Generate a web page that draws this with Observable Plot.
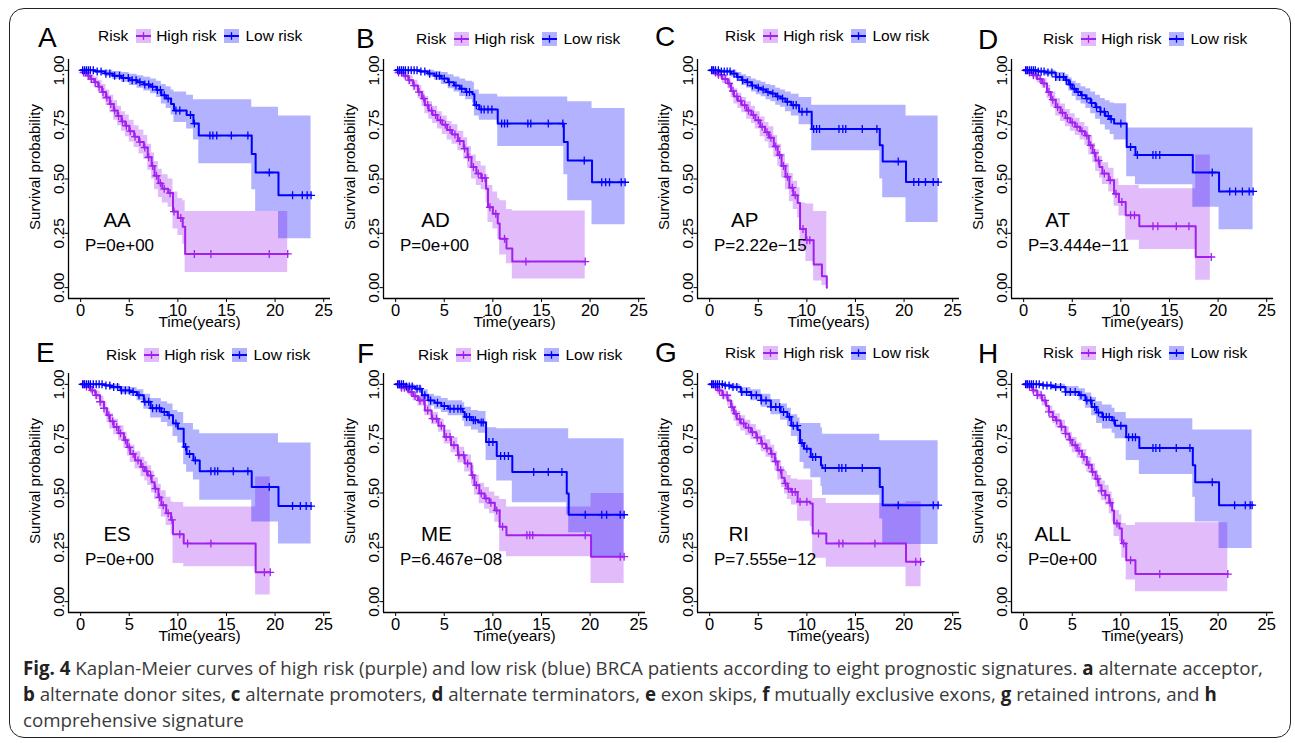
<!DOCTYPE html>
<html><head><meta charset="utf-8">
<script src="https://cdn.jsdelivr.net/npm/d3@7"></script>
<script src="https://cdn.jsdelivr.net/npm/@observablehq/plot@0.6"></script>
<style>
html,body{margin:0;padding:0;background:#fff;}
#root{position:relative;width:1295px;height:743px;overflow:hidden;font-family:"Liberation Sans",Arial,sans-serif;background:#fff;}
#frame{position:absolute;left:9px;top:8px;width:1282px;height:730px;border:1.6px solid #222;border-radius:15px;box-sizing:border-box;}
.panel{position:absolute;}
.letter{position:absolute;font-size:28px;line-height:1;color:#000;}
.legend{position:absolute;display:flex;align-items:center;height:16px;font-size:15.5px;line-height:16px;color:#000;white-space:nowrap;}
.legend svg{display:block;}
.caption{position:absolute;left:23px;white-space:nowrap;color:#3a3a3a;line-height:26px;font-family:"Open Sans","Noto Sans",sans-serif;font-size:18px;}
.caption b{font-weight:700;color:#222;}
</style></head>
<body><div id="root"><div id="frame"></div></div>
<script>
// ---------- categories / labels ----------
const panelLetters = ["A","B","C","D","E","F","G","H"];
const signatures = ["AA","AD","AP","AT","ES","ME","RI","ALL"];
const pValues = ["P=0e+00","P=0e+00","P=2.22e\u221215","P=3.444e\u221211","P=0e+00","P=6.467e\u221208","P=7.555e\u221212","P=0e+00"];
const legendTitle = "Risk";
const groupLabels = ["High risk","Low risk"];
const xTicks = [0,5,10,15,20,25];
const yTicks = [0,0.25,0.5,0.75,1];
const xLabel = "Time(years)";
const yLabel = "Survival probability";

// ---------- AA ----------
const AA_low_t  = [0,1.5,2.5,3.3,4.2,5.0,5.8,6.5,7.2,7.8,8.3,8.8,9.3,9.6,10.9,11.6,12.15,17.6,18.0,20.35,23.7];
const AA_low_s  = [1,0.995,0.985,0.975,0.965,0.955,0.945,0.935,0.925,0.91,0.885,0.87,0.845,0.815,0.795,0.755,0.70,0.615,0.53,0.425,0.425];
const AA_low_hi = [1,1,1,0.995,0.99,0.982,0.975,0.968,0.96,0.95,0.935,0.925,0.91,0.9,0.885,0.865,0.865,0.83,0.83,0.79,0.79];
const AA_low_lo = [1,0.985,0.972,0.958,0.945,0.93,0.918,0.905,0.892,0.875,0.845,0.825,0.795,0.76,0.73,0.68,0.57,0.45,0.35,0.225,0.225];
const AA_low_c  = [0.2,0.4,0.6,0.8,1.0,1.3,1.7,2.1,2.6,3.0,3.5,4.0,4.4,4.9,5.3,5.7,6.1,6.6,7.0,7.4,7.9,8.2,8.6,9.0,9.8,10.2,11.3,11.7,13.3,13.6,14.0,15.5,17.2,19.4,21.8,22.8,23.3,23.7];
const AA_high_t  = [0,0.3,0.7,1.0,1.4,1.8,2.2,2.6,3.0,3.4,3.8,4.2,4.6,5.0,5.5,6.0,6.5,6.9,7.3,7.6,8.0,8.4,9.0,9.5,10.0,10.5,10.75,21.3];
const AA_high_s  = [1,0.99,0.975,0.96,0.945,0.925,0.9,0.875,0.845,0.815,0.79,0.765,0.745,0.72,0.695,0.67,0.645,0.6,0.56,0.515,0.48,0.455,0.435,0.35,0.32,0.28,0.155,0.155];
const AA_high_hi = [1,1,0.99,0.98,0.97,0.955,0.935,0.91,0.885,0.86,0.835,0.81,0.795,0.77,0.745,0.725,0.7,0.66,0.62,0.58,0.545,0.52,0.5,0.44,0.41,0.4,0.35,0.35];
const AA_high_lo = [1,0.98,0.96,0.94,0.92,0.895,0.865,0.84,0.805,0.77,0.745,0.72,0.695,0.67,0.645,0.615,0.59,0.54,0.5,0.45,0.415,0.39,0.37,0.27,0.24,0.2,0.07,0.07];
const AA_high_c  = [0.3,0.5,0.8,1.1,1.5,1.9,2.3,2.7,3.1,3.5,3.9,4.3,4.7,5.1,5.6,6.1,6.6,7.0,7.4,7.8,8.2,8.6,9.2,9.6,10.3,11.7,13.4,19.4,21.3];

// ---------- AD ----------
const AD_low_t  = [0,2.5,3.3,4.0,4.7,5.4,6.0,6.6,7.2,7.9,8.1,8.6,10.5,17.3,17.7,20.2,23.6];
const AD_low_s  = [1,0.995,0.985,0.975,0.962,0.945,0.93,0.915,0.9,0.89,0.84,0.82,0.755,0.67,0.585,0.485,0.485];
const AD_low_hi = [1,1,1,0.995,0.99,0.98,0.97,0.96,0.95,0.945,0.91,0.89,0.877,0.877,0.855,0.825,0.825];
const AD_low_lo = [1,0.985,0.97,0.955,0.935,0.915,0.9,0.88,0.865,0.85,0.79,0.77,0.65,0.52,0.40,0.29,0.29];
const AD_low_c  = [0.2,0.4,0.6,0.8,1.0,1.3,1.6,1.9,2.2,2.6,3.0,3.5,4.2,4.5,5.0,5.5,6.2,6.8,7.3,7.6,8.3,8.8,9.1,9.5,9.9,10.9,11.2,11.5,13.6,13.9,15.7,17.2,19.4,21.2,21.6,22.0,23.2,23.6];
const AD_high_t  = [0,0.3,0.8,1.3,1.8,2.3,2.7,3.0,3.4,3.8,4.3,4.8,5.3,5.8,6.4,7.0,7.4,7.8,8.3,8.8,9.3,9.5,10.0,10.5,10.7,11.4,12.0,19.5];
const AD_high_s  = [1,0.99,0.975,0.955,0.93,0.9,0.87,0.84,0.815,0.795,0.77,0.75,0.725,0.705,0.675,0.64,0.6,0.555,0.525,0.505,0.455,0.37,0.34,0.295,0.225,0.18,0.12,0.12];
const AD_high_hi = [1,1,0.99,0.975,0.955,0.93,0.905,0.88,0.855,0.835,0.81,0.79,0.765,0.75,0.72,0.69,0.65,0.61,0.58,0.56,0.52,0.47,0.44,0.41,0.4,0.36,0.353,0.353];
const AD_high_lo = [1,0.98,0.96,0.935,0.905,0.87,0.835,0.8,0.775,0.755,0.73,0.705,0.68,0.66,0.63,0.59,0.55,0.5,0.47,0.45,0.39,0.3,0.27,0.22,0.15,0.11,0.04,0.04];
const AD_high_c  = [0.3,0.6,1.0,1.4,1.9,2.4,2.9,3.3,3.7,4.1,4.6,5.1,5.6,6.1,6.6,7.1,7.5,8.0,8.5,8.9,9.2,9.7,10.3,11.2,13.4,19.5];

// ---------- AP ----------
const AP_low_t  = [0,1.0,2.2,2.8,3.3,3.8,4.3,4.8,5.3,5.8,6.3,6.8,7.3,7.8,8.4,9.2,10.5,17.5,17.8,20.2,23.5];
const AP_low_s  = [1,0.995,0.985,0.97,0.955,0.945,0.93,0.92,0.912,0.9,0.893,0.88,0.87,0.855,0.84,0.81,0.73,0.655,0.58,0.486,0.486];
const AP_low_hi = [1,1,1,0.99,0.98,0.972,0.96,0.952,0.945,0.935,0.93,0.918,0.91,0.9,0.89,0.875,0.84,0.84,0.84,0.79,0.79];
const AP_low_lo = [1,0.985,0.97,0.95,0.93,0.918,0.9,0.888,0.878,0.865,0.855,0.84,0.83,0.81,0.79,0.75,0.63,0.5,0.414,0.30,0.30];
const AP_low_c  = [0.2,0.4,0.6,0.9,1.2,1.5,1.8,2.1,2.5,2.9,3.4,3.9,4.4,5.0,5.5,6.0,6.5,7.0,7.5,8.0,8.6,8.9,9.5,10.0,10.7,11.0,11.3,13.3,13.7,14.0,15.7,17.2,19.4,21.0,21.5,22.2,23.0,23.5];
const AP_high_t  = [0,0.4,0.8,1.3,1.85,2.2,2.5,2.9,3.3,3.8,4.3,4.7,5.2,5.7,6.1,6.6,7.0,7.4,7.8,8.2,8.6,9.05,9.3,9.9,10.7,11.55,12.05];
const AP_high_s  = [1,0.99,0.98,0.96,0.94,0.905,0.88,0.86,0.84,0.815,0.795,0.77,0.74,0.715,0.69,0.65,0.61,0.56,0.51,0.46,0.425,0.39,0.27,0.218,0.106,0.052,0];
const AP_high_hi = [1,1,0.995,0.98,0.965,0.935,0.915,0.895,0.875,0.855,0.835,0.81,0.785,0.76,0.74,0.7,0.66,0.615,0.57,0.525,0.49,0.46,0.39,0.385,0.35,0.35,0.35];
const AP_high_lo = [1,0.98,0.965,0.94,0.915,0.875,0.845,0.825,0.805,0.775,0.755,0.73,0.695,0.67,0.64,0.6,0.56,0.505,0.45,0.395,0.36,0.32,0.17,0.12,0.03,0.01,0];
const AP_high_c  = [0.3,0.6,0.9,1.2,1.6,2.0,2.4,2.8,3.2,3.6,4.0,4.5,5.0,5.4,5.9,6.3,6.8,7.2,7.6,8.0,8.5,8.8,9.6,10.0,10.3];

// ---------- AT ----------
const AT_low_t  = [0,1.5,2.25,3.3,4.3,4.65,5.0,5.4,5.9,6.4,6.9,7.4,7.9,8.4,8.9,9.3,10.6,11.5,17.4,20.1,23.6];
const AT_low_s  = [1,0.995,0.99,0.97,0.955,0.935,0.915,0.9,0.885,0.87,0.85,0.83,0.81,0.79,0.775,0.755,0.647,0.61,0.53,0.443,0.443];
const AT_low_hi = [1,1,1,0.99,0.98,0.965,0.95,0.94,0.925,0.915,0.9,0.885,0.87,0.86,0.85,0.846,0.735,0.735,0.735,0.735,0.735];
const AT_low_lo = [1,0.985,0.975,0.95,0.93,0.905,0.88,0.86,0.845,0.825,0.8,0.775,0.75,0.725,0.705,0.68,0.51,0.474,0.37,0.267,0.267];
const AT_low_c  = [0.2,0.4,0.6,0.8,1.0,1.2,1.5,1.8,2.1,2.5,2.9,3.3,3.7,4.1,4.4,4.8,5.2,5.6,6.0,6.5,7.0,7.5,7.9,8.3,8.7,9.0,10.0,11.0,11.7,13.3,13.6,14.0,19.4,21.2,21.8,22.5,23.2,23.6];
const AT_high_t  = [0,0.4,0.9,1.4,1.9,2.4,2.8,3.3,3.8,4.3,4.8,5.3,5.8,6.3,6.7,7.1,7.4,7.8,8.1,8.75,9.3,9.8,10.5,11.9,17.7,19.2];
const AT_high_s  = [1,0.99,0.977,0.96,0.94,0.9,0.865,0.83,0.805,0.78,0.76,0.74,0.72,0.7,0.655,0.62,0.585,0.555,0.525,0.494,0.432,0.394,0.333,0.282,0.141,0.141];
const AT_high_hi = [1,1,0.99,0.978,0.962,0.93,0.9,0.87,0.845,0.82,0.8,0.78,0.76,0.74,0.7,0.665,0.635,0.605,0.575,0.55,0.5,0.47,0.47,0.455,0.61,0.61];
const AT_high_lo = [1,0.98,0.964,0.942,0.918,0.87,0.83,0.79,0.765,0.74,0.72,0.7,0.68,0.655,0.61,0.575,0.535,0.505,0.475,0.44,0.375,0.33,0.218,0.175,0.034,0.034];
const AT_high_c  = [0.3,0.6,1.0,1.3,1.7,2.1,2.6,3.0,3.5,4.0,4.5,5.0,5.5,6.0,6.5,6.9,7.3,7.7,8.3,8.9,9.5,10.1,11.0,11.4,13.3,13.8,15.7,17.0,19.3];

// ---------- ES ----------
const ES_low_t  = [0,2.5,3.05,4.1,5.1,5.8,6.5,7.2,8.3,8.95,9.5,10.0,10.6,10.9,11.6,12.25,17.6,20.35,23.7];
const ES_low_s  = [1,0.995,0.988,0.972,0.965,0.95,0.92,0.89,0.873,0.858,0.82,0.796,0.712,0.68,0.65,0.60,0.528,0.44,0.44];
const ES_low_hi = [1,1,1,0.99,0.985,0.975,0.955,0.935,0.92,0.91,0.88,0.87,0.82,0.82,0.79,0.773,0.773,0.73,0.73];
const ES_low_lo = [1,0.985,0.975,0.955,0.945,0.925,0.885,0.845,0.825,0.805,0.76,0.73,0.63,0.595,0.56,0.467,0.367,0.265,0.265];
const ES_low_c  = [0.2,0.4,0.6,0.8,1.0,1.3,1.6,1.9,2.2,2.6,3.0,3.4,3.8,4.2,4.6,5.0,5.4,6.0,6.6,7.0,7.4,7.8,8.1,8.6,9.1,9.8,10.8,11.2,11.8,13.4,13.8,14.1,15.7,17.2,19.4,21.8,22.6,23.2,23.7];
const ES_high_t  = [0,0.4,1.0,1.5,2.0,2.4,2.7,3.0,3.4,3.9,4.45,4.8,5.1,5.6,6.2,6.6,6.9,7.3,7.6,8.0,8.3,8.8,9.3,9.5,10.6,18.0,19.5];
const ES_high_s  = [1,0.99,0.972,0.95,0.92,0.89,0.858,0.83,0.804,0.775,0.743,0.71,0.68,0.65,0.62,0.6,0.58,0.55,0.52,0.48,0.444,0.407,0.376,0.31,0.268,0.135,0.135];
const ES_high_hi = [1,1,0.985,0.97,0.945,0.92,0.89,0.865,0.84,0.81,0.78,0.75,0.72,0.69,0.665,0.645,0.625,0.6,0.57,0.54,0.51,0.48,0.46,0.456,0.436,0.574,0.574];
const ES_high_lo = [1,0.98,0.958,0.93,0.895,0.86,0.825,0.795,0.768,0.74,0.705,0.67,0.64,0.61,0.575,0.555,0.535,0.5,0.47,0.425,0.39,0.35,0.31,0.176,0.16,0.03,0.03];
const ES_high_c  = [0.3,0.6,0.9,1.2,1.6,2.0,2.4,2.9,3.3,3.7,4.1,4.6,5.0,5.4,5.9,6.4,6.8,7.2,7.7,8.1,8.5,9.0,9.4,10.2,11.0,13.4,18.9,19.5];

// ---------- ME ----------
const ME_low_t  = [0,1.0,2.0,2.7,3.35,4.0,4.7,5.4,6.9,7.1,7.8,8.5,9.3,10.4,12.0,17.6,17.8,20.1,23.5];
const ME_low_s  = [1,0.99,0.98,0.95,0.926,0.915,0.9,0.888,0.873,0.85,0.835,0.825,0.735,0.67,0.597,0.498,0.40,0.40,0.40];
const ME_low_hi = [1,1,0.995,0.975,0.955,0.945,0.935,0.925,0.915,0.895,0.88,0.875,0.80,0.796,0.796,0.796,0.75,0.75,0.75];
const ME_low_lo = [1,0.98,0.965,0.925,0.9,0.885,0.87,0.855,0.83,0.805,0.79,0.775,0.65,0.555,0.455,0.40,0.317,0.207,0.207];
const ME_low_c  = [0.2,0.4,0.6,0.8,1.1,1.4,1.7,2.2,2.5,3.0,3.6,4.3,5.0,5.6,6.0,6.4,6.7,7.3,7.6,8.0,8.2,8.8,9.0,9.6,10.0,10.8,11.2,11.6,14.2,15.7,17.1,19.5,21.2,21.7,23.1,23.5];
const ME_high_t  = [0,0.5,1.3,1.8,2.3,3.0,3.7,4.4,5.0,5.7,6.4,7.1,7.8,8.1,8.6,9.15,9.65,10.2,10.7,11.4,20.1,23.5];
const ME_high_s  = [1,0.985,0.965,0.945,0.926,0.88,0.842,0.81,0.758,0.72,0.674,0.636,0.582,0.536,0.498,0.475,0.455,0.42,0.345,0.306,0.207,0.207];
const ME_high_hi = [1,1,0.98,0.965,0.95,0.905,0.87,0.84,0.79,0.755,0.71,0.675,0.625,0.58,0.545,0.525,0.505,0.485,0.47,0.436,0.498,0.498];
const ME_high_lo = [1,0.97,0.95,0.925,0.9,0.855,0.815,0.78,0.725,0.685,0.638,0.597,0.54,0.49,0.45,0.425,0.405,0.365,0.23,0.207,0.084,0.084];
const ME_high_c  = [0.3,0.6,0.9,1.2,1.6,2.0,2.5,2.9,3.3,3.8,4.2,4.7,5.2,5.6,6.0,6.5,7.0,7.4,7.9,8.3,8.8,9.3,9.8,10.4,11.0,13.5,13.8,14.1,19.5,23.1,23.5];

// ---------- RI ----------
const RI_low_t  = [0,1.5,2.2,3.2,4.25,5.3,6.3,7.3,8.0,8.4,9.05,9.3,9.7,10.4,11.45,11.6,17.5,17.8,23.5];
const RI_low_s  = [1,0.995,0.988,0.965,0.95,0.926,0.896,0.873,0.85,0.81,0.79,0.73,0.704,0.666,0.628,0.615,0.528,0.444,0.444];
const RI_low_hi = [1,1,1,0.985,0.975,0.955,0.93,0.91,0.89,0.86,0.845,0.82,0.82,0.82,0.8,0.77,0.74,0.74,0.74];
const RI_low_lo = [1,0.985,0.975,0.945,0.925,0.895,0.86,0.835,0.805,0.76,0.735,0.64,0.61,0.57,0.53,0.49,0.38,0.263,0.263];
const RI_low_c  = [0.2,0.4,0.6,0.8,1.0,1.3,1.6,2.0,2.4,2.8,3.3,3.8,4.3,4.8,5.3,5.8,6.3,6.8,7.2,7.6,8.2,8.6,9.0,9.5,10.0,10.6,10.9,11.9,13.3,13.6,14.0,15.7,19.4,23.0,23.5];
const RI_high_t  = [0,0.4,0.8,1.3,1.85,2.2,2.5,2.8,3.2,3.7,4.25,4.8,5.3,5.8,6.3,6.7,7.0,7.4,7.7,8.0,8.4,9.05,10.35,10.6,12.0,20.2,21.75];
const RI_high_s  = [1,0.99,0.972,0.95,0.926,0.895,0.865,0.84,0.82,0.8,0.78,0.755,0.727,0.705,0.68,0.645,0.605,0.57,0.544,0.52,0.505,0.46,0.452,0.314,0.268,0.184,0.184];
const RI_high_hi = [1,1,0.988,0.97,0.95,0.925,0.9,0.875,0.855,0.835,0.815,0.79,0.765,0.745,0.72,0.69,0.65,0.62,0.6,0.58,0.565,0.56,0.56,0.475,0.452,0.46,0.46];
const RI_high_lo = [1,0.98,0.955,0.93,0.9,0.865,0.83,0.805,0.785,0.765,0.745,0.72,0.69,0.665,0.64,0.6,0.56,0.525,0.495,0.47,0.445,0.37,0.345,0.2,0.158,0.069,0.069];
const RI_high_c  = [0.3,0.6,1.0,1.4,1.8,2.3,2.7,3.1,3.5,4.0,4.4,4.9,5.4,5.9,6.4,6.8,7.3,7.8,8.1,8.5,8.8,9.3,10.0,11.2,13.3,13.7,17.0,21.2,21.7];

// ---------- ALL ----------
const ALL_low_t  = [0,2.0,2.9,4.3,5.7,6.35,7.0,7.5,8.1,9.1,9.4,10.55,11.9,17.4,17.65,20.1,23.5];
const ALL_low_s  = [1,0.995,0.988,0.965,0.95,0.926,0.896,0.87,0.85,0.834,0.81,0.757,0.707,0.628,0.55,0.444,0.444];
const ALL_low_hi = [1,1,1,0.99,0.98,0.96,0.94,0.92,0.905,0.89,0.87,0.842,0.842,0.79,0.79,0.79,0.79];
const ALL_low_lo = [1,0.985,0.975,0.945,0.925,0.89,0.855,0.82,0.795,0.775,0.75,0.65,0.585,0.48,0.367,0.245,0.245];
const ALL_low_c  = [0.2,0.4,0.6,0.8,1.0,1.3,1.6,2.0,2.4,2.8,3.3,3.8,4.3,4.8,5.3,5.9,6.5,6.9,7.3,7.7,8.2,8.5,8.8,9.3,10.0,10.8,11.2,11.5,13.3,13.6,14.0,15.7,17.1,19.4,21.7,22.8,23.3,23.5];
const ALL_high_t  = [0,0.4,0.9,1.4,1.9,2.3,2.6,3.0,3.3,3.8,4.3,4.7,5.0,5.5,6.0,6.5,7.0,7.4,7.7,8.0,8.4,8.8,9.1,9.3,9.85,10.1,10.55,11.5,21.0];
const ALL_high_s  = [1,0.99,0.972,0.95,0.926,0.9,0.873,0.85,0.834,0.805,0.773,0.745,0.72,0.695,0.666,0.63,0.597,0.565,0.536,0.51,0.49,0.455,0.42,0.36,0.337,0.268,0.19,0.127,0.127];
const ALL_high_hi = [1,1,0.987,0.97,0.95,0.925,0.9,0.88,0.865,0.835,0.805,0.78,0.755,0.73,0.7,0.665,0.635,0.605,0.58,0.555,0.535,0.505,0.475,0.42,0.4,0.36,0.35,0.363,0.363];
const ALL_high_lo = [1,0.98,0.957,0.93,0.9,0.875,0.845,0.82,0.8,0.775,0.74,0.71,0.685,0.66,0.63,0.595,0.56,0.525,0.495,0.465,0.445,0.405,0.365,0.3,0.275,0.2,0.1,0.046,0.046];
const ALL_high_c  = [0.3,0.6,1.0,1.4,1.8,2.2,2.6,3.0,3.4,3.9,4.3,4.8,5.3,5.7,6.2,6.7,7.1,7.6,8.0,8.4,8.9,9.6,10.3,11.0,14.0,21.0];

// ---------- layout (positions / styles, kept apart from data) ----------
const HIGH = "#A020F0", LOW = "#0000FF";
const FONT = '"Liberation Sans", Arial, sans-serif';
const xDomain = [-1.25, 25.7], yDomain = [-0.05, 1.05];
const colX = [68.3, 382.7, 696.7, 1010.7];   // page x of each y-axis line
const rowTop = [59, 373];                      // page y of each frame top
const M = {left: 52, right: 14, top: 6, bottom: 40};
const frameW = 262, frameH = 239;
const letterPos = [[38,24],[356,25],[655,23],[978,26],[36,339],[357,340],[655,339],[978,340]];
const legendPos = [[98,36],[416,39],[725,36],[1043,39],[106,355],[418,355],[725,353],[1043,353]];
const nameX = [3.75,4.1,3.6,3.5,3.75,4.2,3.0,3.0];
const nameY = 0.31, pX = 0.45, pY = 0.195;

const source = {
  AA:[AA_high_t,AA_high_s,AA_high_lo,AA_high_hi,AA_high_c, AA_low_t,AA_low_s,AA_low_lo,AA_low_hi,AA_low_c],
  AD:[AD_high_t,AD_high_s,AD_high_lo,AD_high_hi,AD_high_c, AD_low_t,AD_low_s,AD_low_lo,AD_low_hi,AD_low_c],
  AP:[AP_high_t,AP_high_s,AP_high_lo,AP_high_hi,AP_high_c, AP_low_t,AP_low_s,AP_low_lo,AP_low_hi,AP_low_c],
  AT:[AT_high_t,AT_high_s,AT_high_lo,AT_high_hi,AT_high_c, AT_low_t,AT_low_s,AT_low_lo,AT_low_hi,AT_low_c],
  ES:[ES_high_t,ES_high_s,ES_high_lo,ES_high_hi,ES_high_c, ES_low_t,ES_low_s,ES_low_lo,ES_low_hi,ES_low_c],
  ME:[ME_high_t,ME_high_s,ME_high_lo,ME_high_hi,ME_high_c, ME_low_t,ME_low_s,ME_low_lo,ME_low_hi,ME_low_c],
  RI:[RI_high_t,RI_high_s,RI_high_lo,RI_high_hi,RI_high_c, RI_low_t,RI_low_s,RI_low_lo,RI_low_hi,RI_low_c],
  ALL:[ALL_high_t,ALL_high_s,ALL_high_lo,ALL_high_hi,ALL_high_c, ALL_low_t,ALL_low_s,ALL_low_lo,ALL_low_hi,ALL_low_c]
};

function rows(t, s, lo, hi) {
  const n = Math.min(t.length, s.length, lo.length, hi.length);
  return d3.range(n).map(i => ({t: t[i], s: s[i], lo: lo[i], hi: hi[i]}));
}
function censors(c, t, s) {
  return c.map(ct => ({t: ct, s: s[Math.max(0, d3.bisectRight(t, ct) - 1)]}));
}

const root = document.getElementById("root");

function swatch(color) {
  return `<svg width="15" height="14"><rect width="15" height="14" fill="${color}" fill-opacity="0.3"/>` +
    `<line x1="0" x2="15" y1="7" y2="7" stroke="${color}" stroke-width="2"/>` +
    `<line x1="7.5" x2="7.5" y1="3.2" y2="10.8" stroke="${color}" stroke-width="1.3"/></svg>`;
}

signatures.forEach((sig, i) => {
  const [ht, hs, hlo, hhi, hc, lt, ls, llo, lhi, lc] = source[sig];
  const high = rows(ht, hs, hlo, hhi), low = rows(lt, ls, llo, lhi);
  const highC = censors(hc, ht, hs), lowC = censors(lc, lt, ls);
  const col = i % 4, row = Math.floor(i / 4);

  const plot = Plot.plot({
    width: M.left + frameW + M.right,
    height: M.top + frameH + M.bottom,
    marginLeft: M.left, marginRight: M.right, marginTop: M.top, marginBottom: M.bottom,
    x: {domain: xDomain},
    y: {domain: yDomain},
    style: {fontFamily: FONT, fontSize: "15px", color: "#000", background: "transparent", overflow: "visible"},
    marks: [
      Plot.areaY(high, {x: "t", y1: "lo", y2: "hi", curve: "step-after", fill: HIGH, fillOpacity: 0.3}),
      Plot.areaY(low, {x: "t", y1: "lo", y2: "hi", curve: "step-after", fill: LOW, fillOpacity: 0.3}),
      Plot.line(high, {x: "t", y: "s", curve: "step-after", stroke: HIGH, strokeWidth: 2}),
      Plot.line(low, {x: "t", y: "s", curve: "step-after", stroke: LOW, strokeWidth: 2}),
      Plot.dot(highC, {x: "t", y: "s", symbol: "plus", r: 2.7, stroke: HIGH, strokeWidth: 1.3}),
      Plot.dot(lowC, {x: "t", y: "s", symbol: "plus", r: 2.7, stroke: LOW, strokeWidth: 1.3}),
      Plot.ruleX([xDomain[0]], {stroke: "#000", strokeWidth: 1.3}),
      Plot.ruleY([yDomain[0]], {stroke: "#000", strokeWidth: 1.3}),
      Plot.axisX({ticks: xTicks, tickSize: 4, tickPadding: 2, label: null, fontSize: 16.5}),
      Plot.axisY({ticks: yTicks, tickFormat: d3.format(".2f"), tickRotate: -90, tickSize: 3.5, tickPadding: 1, label: null, fontSize: 15.5}),
      Plot.text([xLabel], {frameAnchor: "bottom", textAnchor: "middle", lineAnchor: "middle", dy: 23.5, fontSize: 15.5}),
      Plot.text([yLabel], {frameAnchor: "left", textAnchor: "middle", lineAnchor: "middle", dx: -33, dy: -12, rotate: -90, fontSize: 15}),
      Plot.text([sig], {x: () => nameX[i], y: () => nameY, fontSize: 20.5}),
      Plot.text([pValues[i]], {x: () => pX, y: () => pY, textAnchor: "start", fontSize: 17})
    ]
  });
  const wrap = document.createElement("div");
  wrap.className = "panel";
  wrap.style.left = (colX[col] - M.left) + "px";
  wrap.style.top = (rowTop[row] - M.top) + "px";
  wrap.appendChild(plot);
  root.appendChild(wrap);

  const letter = document.createElement("div");
  letter.className = "letter";
  letter.textContent = panelLetters[i];
  letter.style.left = letterPos[i][0] + "px";
  letter.style.top = letterPos[i][1] + "px";
  root.appendChild(letter);

  const leg = document.createElement("div");
  leg.className = "legend";
  leg.style.left = legendPos[i][0] + "px";
  leg.style.top = (legendPos[i][1] - 8) + "px";
  leg.innerHTML = `<span>${legendTitle}</span><span style="margin-left:8px">${swatch(HIGH)}</span>` +
    `<span style="margin-left:5px">${groupLabels[0]}</span><span style="margin-left:8px">${swatch(LOW)}</span>` +
    `<span style="margin-left:6px">${groupLabels[1]}</span>`;
  root.appendChild(leg);
});

// caption
const captionLines = [
  '<b>Fig. 4</b> Kaplan-Meier curves of high risk (purple) and low risk (blue) BRCA patients according to eight prognostic signatures. <b>a</b> alternate acceptor,',
  '<b>b</b> alternate donor sites, <b>c</b> alternate promoters, <b>d</b> alternate terminators, <b>e</b> exon skips, <b>f</b> mutually exclusive exons, <b>g</b> retained introns, and <b>h</b>',
  'comprehensive signature'
];
const captionTop = [655, 681, 707];
const capEls = captionLines.map((html, k) => {
  const d = document.createElement("div");
  d.className = "caption";
  d.innerHTML = html;
  d.style.top = captionTop[k] + "px";
  root.appendChild(d);
  return d;
});
const target = 1241;
const w0 = capEls[0].getBoundingClientRect().width;
if (w0 > 0) {
  const fs = 18 * target / w0;
  capEls.forEach(d => d.style.fontSize = fs.toFixed(2) + "px");
}
</script>
</body></html>
